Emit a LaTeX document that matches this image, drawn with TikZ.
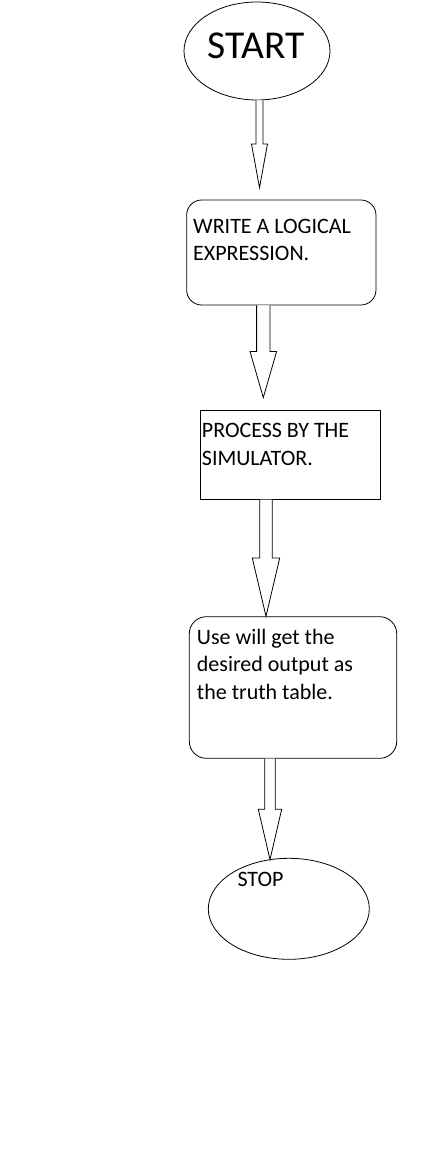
\documentclass[tikz,border=0pt]{standalone}
\usepackage{fontspec}
\setmainfont{Carlito}
\usetikzlibrary{shapes.geometric,calc}
\newcommand\blockarrow[6]{% from, to, axis x, half shaft, half head, gap above target
  \draw[blk] let \p1=(#1.south), \p2=(#2.north), \n1={\y2+#6pt}, \n2={(\y1+\n1)/2} in
    ({(#3-#4)*1pt},\y1) -- ({(#3-#4)*1pt},{\n2*1pt}) -- ({(#3-#5)*1pt},{\n2*1pt})
    -- ({#3*1pt},{\n1*1pt}) -- ({(#3+#5)*1pt},{\n2*1pt}) -- ({(#3+#4)*1pt},{\n2*1pt})
    -- ({(#3+#4)*1pt},\y1);}
\begin{document}
\begin{tikzpicture}[x=1pt,y=-1pt,
  term/.style={ellipse, draw, line width=0.8pt, inner sep=0pt},
  roundbox/.style={rectangle, rounded corners=15pt, draw, line width=0.8pt, inner sep=0pt},
  sharpbox/.style={rectangle, draw, line width=0.8pt, inner sep=0pt},
  lbl/.style={inner sep=0pt, font=\fontsize{22}{27.5}\selectfont, align=left, anchor=north west},
  blk/.style={draw, line width=0.8pt, fill=white, line join=miter}]
\useasboundingbox (0,0) rectangle (444,1156);
\fill[white] (0,0) rectangle (444,1156);
% shapes
\node[term, minimum width=146pt, minimum height=98pt] (start) at (257,51) {};
\node[roundbox, minimum width=189.3pt, minimum height=105pt] (write) at (281.3,252.5) {};
\node[sharpbox, minimum width=180.7pt, minimum height=89.3pt] (proc) at (290.3,454.6) {};
\node[roundbox, rounded corners=17pt, minimum width=207.4pt, minimum height=141.6pt] (use) at (293,687.5) {};
\node[term, minimum width=161pt, minimum height=101pt] (stop) at (288.8,908.8) {};
% texts
\node[inner sep=0pt, anchor=base, font=\fontsize{39.5}{47}\selectfont] (starttext) at (256.5,58.3) {START};
\node[lbl] (writetext) at (193,219) {WRITE A LOGICAL\\EXPRESSION.};
\node[lbl] (proctext) at (201.7,423.3) {PROCESS BY THE\\SIMULATOR.};
\node[lbl] (usetext) at (196.7,628.8) {Use will get the\\desired output as\\the truth table.};
\node[lbl] (stoptext) at (237.3,871.8) {STOP};
% block arrows
\blockarrow{start}{write}{259.5}{3.5}{8}{12}
\blockarrow{write}{proc}{263.3}{6.7}{13.3}{12}
\blockarrow{proc}{use}{266}{6.3}{13.7}{0}
\blockarrow{use}{stop}{270}{5.3}{11.7}{-1.7}
\end{tikzpicture}
\end{document}
